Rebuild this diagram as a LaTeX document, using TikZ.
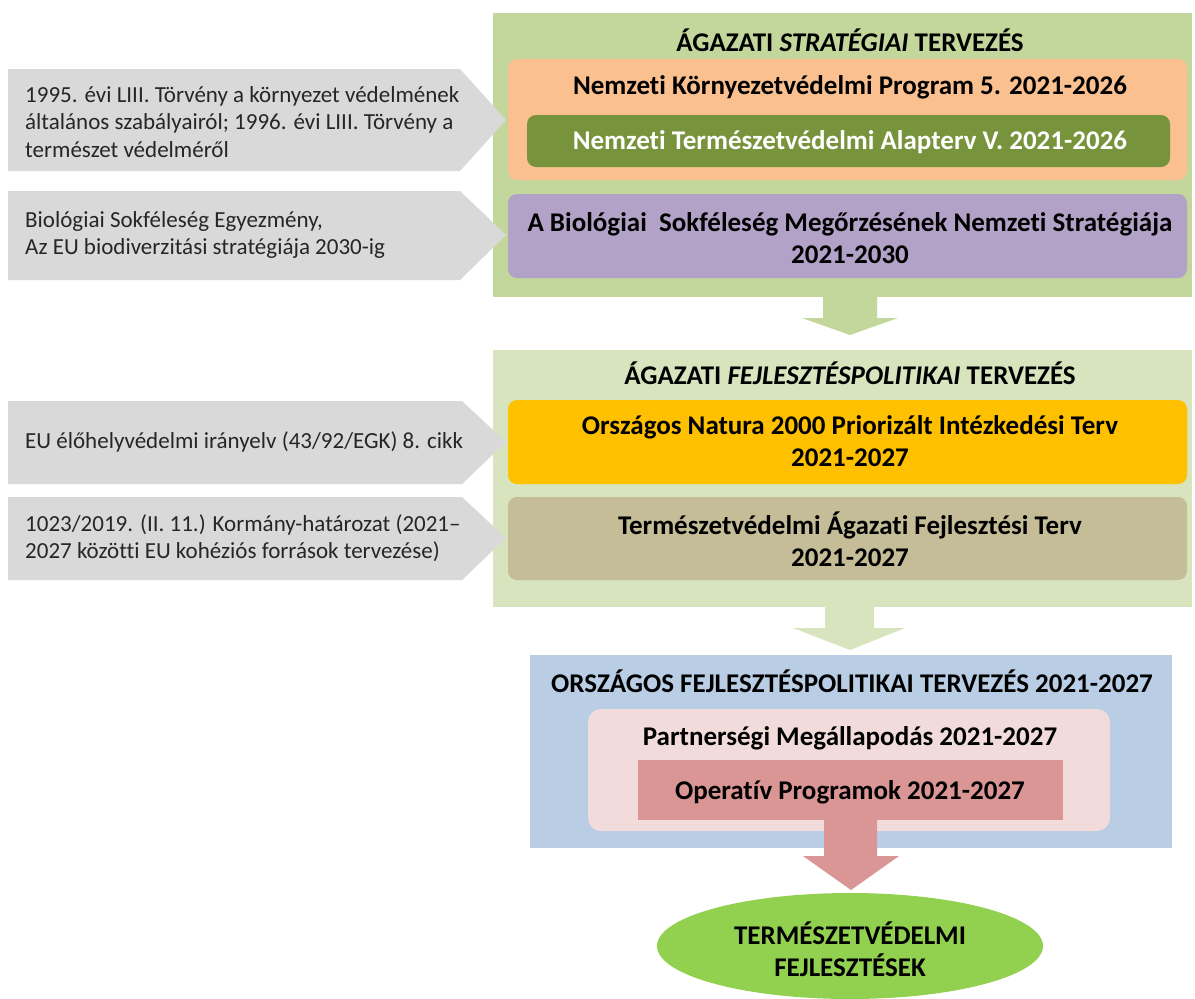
\documentclass[tikz,border=0pt]{standalone}
\usepackage{fontspec}
\setmainfont{Carlito}[Ligatures=CommonOff]
\usetikzlibrary{shapes.geometric}
\definecolor{greenA}{HTML}{C3D69B}
\definecolor{greenB}{HTML}{D7E4BD}
\definecolor{peach}{HTML}{FAC090}
\definecolor{olive}{HTML}{77933C}
\definecolor{lilac}{HTML}{B3A2C7}
\definecolor{gold}{HTML}{FFC000}
\definecolor{tan}{HTML}{C4BD97}
\definecolor{bluebox}{HTML}{B9CDE5}
\definecolor{pinklight}{HTML}{F2DCDB}
\definecolor{pinkdark}{HTML}{D99694}
\definecolor{limegreen}{HTML}{92D050}
\definecolor{grayarrow}{HTML}{D9D9D9}
\tikzset{
  panel/.style={inner sep=0pt, draw=none},
  card/.style={rounded corners=9pt, inner sep=0pt, draw=none, minimum width=679pt},
  boldtxt/.style={font=\bfseries\fontsize{27}{32}\selectfont, align=center, inner sep=0pt},
  graytxt/.style={font=\fontsize{23}{27.5}\selectfont, align=left, anchor=west, inner sep=0pt, text=black!85},
  grayshape/.style={fill=grayarrow},
}
\begin{document}
\begin{tikzpicture}[x=1pt,y=-1pt]
\useasboundingbox (0,0) rectangle (1195,999);
% panels
\node[panel, fill=greenA, minimum width=699pt, minimum height=284pt] (p1) at (842.5,155) {};
\node[panel, fill=greenB, minimum width=699pt, minimum height=257pt] (p2) at (842.5,478.5) {};
\node[panel, fill=bluebox, minimum width=642pt, minimum height=193pt] (p3) at (851,751.5) {};
% titles
\node[boldtxt] (t1) at (850,40) {ÁGAZATI \textit{STRATÉGIAI} TERVEZÉS};
\node[boldtxt] (t2) at (850,373) {ÁGAZATI \textit{FEJLESZTÉSPOLITIKAI} TERVEZÉS};
\node[boldtxt] (t3) at (852,681) {ORSZÁGOS FEJLESZTÉSPOLITIKAI TERVEZÉS 2021-2027};
% cards in panel 1
\node[card, fill=peach, minimum height=121pt] (nkp) at (847.5,119.5) {};
\node[boldtxt] (nkptxt) at (850,87) {Nemzeti Környezetvédelmi Program 5. 2021-2026};
\node[card, fill=olive, minimum width=643pt, minimum height=52pt] (nta) at (848.5,141) {};
\node[boldtxt, text=white] (ntatxt) at (850,142) {Nemzeti Természetvédelmi Alapterv V. 2021-2026};
\node[card, fill=lilac, minimum height=84pt] (bsm) at (847.5,236) {};
\node[boldtxt] (bsmtxt) at (850,238) {A Biológiai\ \ Sokféleség Megőrzésének Nemzeti Stratégiája\\2021-2030};
% cards in panel 2
\node[card, fill=gold, minimum height=84pt] (n2k) at (847.5,442) {};
\node[boldtxt] (n2ktxt) at (850,441) {Országos Natura 2000 Priorizált Intézkedési Terv\\2021-2027};
\node[card, fill=tan, minimum height=83pt] (taft) at (847.5,538.5) {};
\node[boldtxt] (tafttxt) at (850,539) {Természetvédelmi Ágazati Fejlesztési Terv\\2021-2027};
% panel 3
\node[card, fill=pinklight, minimum width=522pt, minimum height=122pt, rounded corners=13pt] (pm) at (849,770) {};
\node[boldtxt] (pmtxt) at (850,738) {Partnerségi Megállapodás 2021-2027};
\node[panel, fill=pinkdark, minimum width=425pt, minimum height=60pt] (op) at (850.5,790) {};
\node[boldtxt] (optxt) at (850,792) {Operatív Programok 2021-2027};
% result ellipse
\node[ellipse, fill=limegreen, minimum width=386pt, minimum height=106pt, inner sep=0pt] (res) at (850,946) {};
\node[boldtxt] (restxt) at (850,949) {TERMÉSZETVÉDELMI\\FEJLESZTÉSEK};
% block arrows
\fill[greenA] (823,297) -- (877,297) -- (877,318) -- (898,318) -- (850,335) -- (802,318) -- (823,318) -- cycle;
\fill[greenB] (825,606) -- (874,606) -- (874,628) -- (905,628) -- (850,650) -- (793,628) -- (825,628) -- cycle;
\fill[pinkdark] (824,819) -- (877,819) -- (877,856) -- (899,856) -- (851,890) -- (803,856) -- (824,856) -- cycle;
% gray input arrows
\fill[grayshape] (8,69) -- (460,69) -- (506,120) -- (460,171) -- (8,171) -- cycle;
\fill[grayshape] (8,191) -- (460,191) -- (506,235) -- (460,280) -- (8,280) -- cycle;
\fill[grayshape] (8,401) -- (462,401) -- (506,442) -- (462,484) -- (8,484) -- cycle;
\fill[grayshape] (8,497) -- (462,497) -- (506,538) -- (462,580) -- (8,580) -- cycle;
\node[graytxt] (g1) at (25,122) {1995. évi LIII. Törvény a környezet védelmének\\általános szabályairól; 1996. évi LIII. Törvény a\\természet védelméről};
\node[graytxt] (g2) at (25,235) {Biológiai Sokféleség Egyezmény,\\Az EU biodiverzitási stratégiája 2030-ig};
\node[graytxt] (g3) at (25,442) {EU élőhelyvédelmi irányelv (43/92/EGK) 8. cikk};
\node[graytxt] (g4) at (25,538) {1023/2019. (II. 11.) Kormány-határozat (2021–\\2027 közötti EU kohéziós források tervezése)};
\end{tikzpicture}
\end{document}
